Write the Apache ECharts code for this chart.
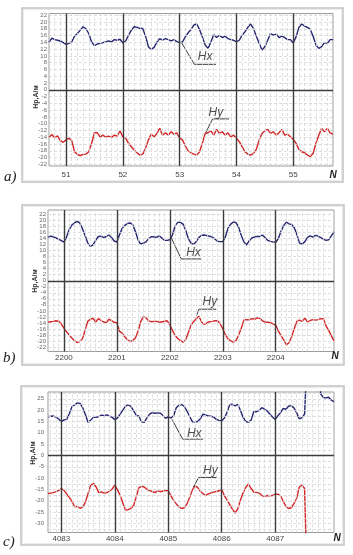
<!DOCTYPE html>
<html><head><meta charset="utf-8">
<script src="https://cdn.jsdelivr.net/npm/echarts@6/dist/echarts.min.js"></script>
<style>html,body{margin:0;padding:0;background:#fff}#c{width:353px;height:555px}</style>
</head><body><div id="c"></div>
<script>
// ---------- Panel a) ----------
const xTicksA = [51, 52, 53, 54, 55];
const yTicksA = [22, 20, 18, 16, 14, 12, 10, 8, 6, 4, 2, 0, -2, -4, -6, -8, -10, -12, -14, -16, -18, -20, -22];
const hxA = [[50.70,14.1],[50.75,15.2],[50.80,14.8],[50.85,14.6],[50.90,14.4],[50.95,13.9],[51.00,13.4],
[51.05,13.7],[51.10,14.1],[51.15,15.8],[51.20,16.6],[51.25,17.6],[51.30,18.6],[51.35,18.0],[51.40,16.6],[51.45,14.1],[51.50,13.0],
[51.55,13.5],[51.60,13.7],[51.65,13.9],[51.70,14.1],[51.75,14.4],[51.80,14.1],[51.85,14.8],[51.90,14.6],[51.95,14.9],[52.00,13.8],
[52.05,14.4],[52.10,16.1],[52.15,17.6],[52.20,18.6],[52.25,18.4],[52.30,18.1],[52.35,18.1],[52.40,15.8],[52.45,12.7],[52.50,11.9],
[52.55,12.5],[52.60,14.1],[52.65,15.1],[52.70,14.6],[52.75,15.1],[52.80,14.8],[52.85,14.4],[52.90,14.8],[52.95,14.2],[53.00,13.9],
[53.05,14.1],[53.10,15.6],[53.15,16.8],[53.20,17.8],[53.25,19.1],[53.30,19.4],[53.35,17.8],[53.40,15.6],[53.45,13.2],[53.50,12.2],
[53.55,14.1],[53.60,16.3],[53.65,15.4],[53.70,16.1],[53.75,15.4],[53.80,15.8],[53.85,15.1],[53.90,14.8],[53.95,14.6],[54.00,14.1],
[54.05,14.6],[54.10,16.1],[54.15,17.1],[54.20,18.4],[54.25,19.4],[54.30,18.1],[54.35,15.8],[54.40,13.7],[54.45,11.7],[54.50,12.7],
[54.55,14.6],[54.60,16.6],[54.65,16.1],[54.70,16.4],[54.75,15.4],[54.80,15.8],[54.85,15.4],[54.90,14.8],[54.95,14.8],[55.00,13.8],
[55.05,15.6],[55.10,18.4],[55.15,19.4],[55.20,18.8],[55.25,18.4],[55.30,17.8],[55.35,15.8],[55.40,13.2],[55.45,12.2],[55.50,12.7],
[55.55,13.9],[55.60,13.7],[55.65,14.8],[55.70,14.8]];
const hyA = [[50.70,-14.0],[50.75,-13.2],[50.80,-14.2],[50.85,-13.6],[50.90,-15.0],[50.95,-15.5],[51.00,-14.8],
[51.05,-14.3],[51.10,-15.0],[51.15,-18.3],[51.20,-19.1],[51.25,-19.4],[51.30,-19.1],[51.35,-19.0],[51.40,-18.3],[51.45,-15.8],[51.50,-12.7],
[51.55,-12.7],[51.60,-13.9],[51.65,-13.4],[51.70,-14.0],[51.75,-13.7],[51.80,-14.1],[51.85,-13.4],[51.90,-13.7],[51.95,-12.1],[52.00,-13.9],
[52.05,-14.3],[52.10,-15.8],[52.15,-16.8],[52.20,-17.8],[52.25,-18.6],[52.30,-19.3],[52.35,-19.0],[52.40,-17.3],[52.45,-14.8],[52.50,-13.1],
[52.55,-13.9],[52.60,-12.9],[52.65,-11.4],[52.70,-13.4],[52.75,-12.7],[52.80,-13.4],[52.85,-12.4],[52.90,-13.1],[52.95,-12.7],[53.00,-14.3],
[53.05,-14.8],[53.10,-16.6],[53.15,-18.0],[53.20,-18.6],[53.25,-19.0],[53.30,-19.3],[53.35,-18.3],[53.40,-15.8],[53.45,-12.9],[53.50,-12.7],
[53.55,-12.1],[53.60,-13.4],[53.65,-11.7],[53.70,-12.9],[53.75,-12.4],[53.80,-13.4],[53.85,-12.7],[53.90,-13.9],[53.95,-13.4],[54.00,-14.3],
[54.05,-15.3],[54.10,-16.8],[54.15,-18.3],[54.20,-19.0],[54.25,-19.3],[54.30,-18.8],[54.35,-17.6],[54.40,-14.8],[54.45,-12.9],[54.50,-12.1],
[54.55,-11.7],[54.60,-12.9],[54.65,-12.4],[54.70,-13.4],[54.75,-12.7],[54.80,-11.7],[54.85,-13.4],[54.90,-13.1],[54.95,-13.9],[55.00,-14.6],
[55.05,-15.8],[55.10,-17.6],[55.15,-18.3],[55.20,-18.6],[55.25,-19.3],[55.30,-19.7],[55.35,-18.8],[55.40,-15.8],[55.45,-13.4],[55.50,-11.4],
[55.55,-12.4],[55.60,-11.4],[55.65,-12.7],[55.70,-13.1]];
const leadHxA = [[53.035,13.85],[53.26,7.5],[53.64,7.5]];
const leadHyA = [[53.46,-12.7],[53.58,-8.6],[53.87,-8.6]];
const textHxA = [53.31, 9.7];
const textHyA = [53.50, -6.9];

// ---------- Panel b) ----------
const xTicksB = [2200, 2201, 2202, 2203, 2204];
const yTicksB = [22, 20, 18, 16, 14, 12, 10, 8, 6, 4, 2, 0, -2, -4, -6, -8, -10, -12, -14, -16, -18, -20, -22];
const hxB = [[2199.70,14.5],[2199.75,14.8],[2199.80,14.6],[2199.85,14.2],[2199.90,13.8],[2199.95,13.3],[2200.00,12.8],
[2200.05,14.5],[2200.10,17.0],[2200.15,18.5],[2200.20,19.2],[2200.25,19.7],[2200.30,19.2],[2200.35,17.3],[2200.40,15.0],[2200.45,12.6],[2200.50,11.4],
[2200.55,11.9],[2200.60,13.4],[2200.65,14.7],[2200.70,14.8],[2200.75,14.3],[2200.80,14.7],[2200.85,15.2],[2200.90,14.4],[2200.95,13.2],[2201.00,12.8],
[2201.05,15.3],[2201.10,17.4],[2201.15,18.4],[2201.20,19.0],[2201.25,19.2],[2201.30,18.6],[2201.35,16.4],[2201.40,13.6],[2201.45,12.2],[2201.50,12.5],
[2201.55,12.9],[2201.60,14.0],[2201.65,14.6],[2201.70,14.6],[2201.75,14.4],[2201.80,14.9],[2201.85,14.2],[2201.90,13.4],[2201.95,13.4],[2202.00,13.6],
[2202.05,15.2],[2202.10,18.2],[2202.15,19.4],[2202.20,19.4],[2202.25,18.8],[2202.30,16.8],[2202.35,14.0],[2202.40,12.5],[2202.45,12.1],[2202.50,13.0],
[2202.55,14.4],[2202.60,15.1],[2202.65,15.2],[2202.70,15.0],[2202.75,14.8],[2202.80,14.5],[2202.85,13.9],[2202.90,13.1],[2202.95,13.0],[2203.00,13.0],
[2203.05,14.6],[2203.10,17.5],[2203.15,18.8],[2203.20,19.5],[2203.25,19.3],[2203.30,17.7],[2203.35,15.0],[2203.40,12.9],[2203.45,11.9],[2203.50,13.3],
[2203.55,14.2],[2203.60,14.6],[2203.65,14.7],[2203.70,14.7],[2203.75,15.2],[2203.80,14.3],[2203.85,13.4],[2203.90,13.1],[2203.95,12.9],[2204.00,12.8],
[2204.05,14.0],[2204.10,16.5],[2204.15,18.3],[2204.20,19.5],[2204.25,18.9],[2204.30,18.7],[2204.35,17.6],[2204.40,15.3],[2204.45,12.5],[2204.50,12.2],
[2204.55,13.0],[2204.60,14.4],[2204.65,14.9],[2204.70,14.5],[2204.75,15.1],[2204.80,14.8],[2204.85,14.3],[2204.90,13.8],[2204.95,13.4],[2205.00,13.6],
[2205.05,14.9],[2205.10,16.2]];
const hyB = [[2199.70,-13.7],[2199.75,-13.6],[2199.80,-13.5],[2199.85,-13.3],[2199.90,-13.4],[2199.95,-14.3],[2200.00,-15.7],
[2200.05,-16.9],[2200.10,-18.0],[2200.15,-19.0],[2200.20,-19.9],[2200.25,-20.5],[2200.30,-20.2],[2200.35,-19.3],[2200.40,-16.5],[2200.45,-13.5],[2200.50,-12.8],
[2200.55,-12.4],[2200.60,-13.7],[2200.65,-12.6],[2200.70,-13.2],[2200.75,-13.7],[2200.80,-13.9],[2200.85,-12.8],[2200.90,-13.2],[2200.95,-13.8],[2201.00,-14.0],
[2201.05,-16.8],[2201.10,-17.4],[2201.15,-18.6],[2201.20,-19.6],[2201.25,-20.2],[2201.30,-19.8],[2201.35,-19.0],[2201.40,-16.8],[2201.45,-13.6],[2201.50,-12.0],
[2201.55,-12.3],[2201.60,-13.3],[2201.65,-13.6],[2201.70,-13.5],[2201.75,-13.5],[2201.80,-13.7],[2201.85,-13.7],[2201.90,-13.4],[2201.95,-13.3],[2202.00,-14.6],
[2202.05,-16.5],[2202.10,-18.2],[2202.15,-19.2],[2202.20,-19.9],[2202.25,-20.4],[2202.30,-19.6],[2202.35,-17.2],[2202.40,-14.8],[2202.45,-13.5],[2202.50,-12.6],
[2202.55,-11.8],[2202.60,-13.7],[2202.65,-14.5],[2202.70,-14.0],[2202.75,-13.6],[2202.80,-13.5],[2202.85,-13.3],[2202.90,-13.3],[2202.95,-14.2],[2203.00,-16.0],
[2203.05,-18.0],[2203.10,-19.3],[2203.15,-20.0],[2203.20,-20.4],[2203.25,-19.9],[2203.30,-18.0],[2203.35,-15.7],[2203.40,-13.0],[2203.45,-12.9],[2203.50,-13.0],
[2203.55,-12.6],[2203.60,-12.8],[2203.65,-12.3],[2203.70,-12.5],[2203.75,-13.3],[2203.80,-13.7],[2203.85,-13.8],[2203.90,-13.9],[2203.95,-14.3],[2204.00,-14.8],
[2204.05,-16.7],[2204.10,-18.2],[2204.15,-19.6],[2204.20,-21.3],[2204.25,-20.6],[2204.30,-18.6],[2204.35,-15.9],[2204.40,-13.4],[2204.45,-13.1],[2204.50,-13.5],
[2204.55,-12.4],[2204.60,-13.7],[2204.65,-13.2],[2204.70,-12.9],[2204.75,-13.1],[2204.80,-12.9],[2204.85,-12.6],[2204.90,-12.6],[2204.95,-15.0],[2205.00,-16.5],
[2205.05,-18.3],[2205.10,-20.0]];
const leadHxB = [[2202.03,14.2],[2202.215,7.25],[2202.59,7.25]];
const leadHyB = [[2202.50,-11.8],[2202.55,-9.45],[2202.875,-9.45]];
const textHxB = [2202.30, 9.2];
const textHyB = [2202.61, -7.0];

// ---------- Panel c) ----------
const xTicksC = [4083, 4084, 4085, 4086, 4087];
const yTicksC = [25, 20, 15, 10, 5, 0, -5, -10, -15, -20, -25, -30];
const hxC = [[4082.75,17.1],[4082.80,17.3],[4082.85,17.4],[4082.90,16.9],[4082.95,16.1],[4083.00,14.9],
[4083.05,15.7],[4083.10,15.9],[4083.15,18.5],[4083.20,21.6],[4083.25,22.3],[4083.30,23.2],[4083.35,23.0],[4083.40,21.0],[4083.45,18.0],[4083.50,14.5],
[4083.55,15.6],[4083.60,16.9],[4083.65,16.8],[4083.70,17.2],[4083.75,17.8],[4083.80,17.6],[4083.85,17.9],[4083.90,17.3],[4083.95,16.8],[4084.00,15.8],
[4084.05,16.6],[4084.10,18.2],[4084.15,20.0],[4084.20,21.8],[4084.25,22.3],[4084.30,21.7],[4084.35,19.8],[4084.40,17.8],[4084.45,17.3],[4084.50,14.8],
[4084.55,14.6],[4084.60,16.6],[4084.65,18.2],[4084.70,18.9],[4084.75,18.6],[4084.80,18.8],[4084.85,18.7],[4084.90,17.6],[4084.95,16.4],[4085.00,17.1],
[4085.05,16.5],[4085.10,17.5],[4085.15,21.1],[4085.20,22.3],[4085.25,22.5],[4085.30,21.6],[4085.35,19.6],[4085.40,17.2],[4085.45,14.9],[4085.50,14.8],
[4085.55,15.0],[4085.60,16.2],[4085.65,18.2],[4085.70,17.9],[4085.75,17.4],[4085.80,17.3],[4085.85,16.9],[4085.90,15.9],[4085.95,15.5],[4086.00,15.3],
[4086.05,16.5],[4086.10,19.0],[4086.15,22.5],[4086.20,22.6],[4086.25,21.9],[4086.30,22.6],[4086.35,19.8],[4086.40,16.8],[4086.45,15.0],[4086.50,14.6],
[4086.55,15.6],[4086.60,19.4],[4086.65,19.3],[4086.70,19.9],[4086.75,21.1],[4086.80,20.4],[4086.85,19.6],[4086.90,18.3],[4086.95,17.0],[4087.00,15.9],
[4087.05,17.5],[4087.10,18.9],[4087.15,20.8],[4087.20,20.4],[4087.25,21.7],[4087.30,22.0],[4087.35,21.0],[4087.40,18.9],[4087.45,16.2],[4087.50,16.6],
[4087.55,18.3],[4087.57,19.0],[4087.59,40],[4087.82,40],[4087.85,27.2],[4087.90,25.6],[4087.95,25.4],[4088.00,25.7],[4088.05,24.4],[4088.10,23.8]];
const hyC = [[4082.75,-16.8],[4082.80,-16.6],[4082.85,-16.4],[4082.90,-16.0],[4082.95,-15.4],[4083.00,-14.6],
[4083.05,-15.4],[4083.10,-17.0],[4083.15,-18.6],[4083.20,-20.3],[4083.25,-22.7],[4083.30,-22.4],[4083.35,-23.3],[4083.40,-22.8],[4083.45,-20.6],[4083.50,-16.8],
[4083.55,-13.0],[4083.60,-12.4],[4083.65,-13.9],[4083.70,-16.4],[4083.75,-16.1],[4083.80,-16.6],[4083.85,-16.4],[4083.90,-15.8],[4083.95,-14.8],[4084.00,-13.1],
[4084.05,-15.2],[4084.10,-17.6],[4084.15,-21.0],[4084.20,-24.2],[4084.25,-23.9],[4084.30,-23.3],[4084.35,-22.2],[4084.40,-18.3],[4084.45,-14.2],[4084.50,-13.6],
[4084.55,-13.9],[4084.60,-14.9],[4084.65,-15.5],[4084.70,-15.9],[4084.75,-16.4],[4084.80,-15.6],[4084.85,-16.0],[4084.90,-15.7],[4084.95,-15.4],[4085.00,-15.6],
[4085.05,-17.8],[4085.10,-19.8],[4085.15,-21.4],[4085.20,-22.7],[4085.25,-23.4],[4085.30,-23.1],[4085.35,-21.4],[4085.40,-18.5],[4085.45,-15.3],[4085.50,-13.3],
[4085.55,-14.2],[4085.60,-15.8],[4085.65,-16.9],[4085.70,-17.6],[4085.75,-17.0],[4085.80,-16.5],[4085.85,-16.2],[4085.90,-15.9],[4085.95,-15.6],[4086.00,-15.0],
[4086.05,-17.8],[4086.10,-19.6],[4086.15,-21.8],[4086.20,-23.7],[4086.25,-25.4],[4086.30,-23.5],[4086.35,-19.7],[4086.40,-16.5],[4086.45,-14.0],[4086.50,-12.6],
[4086.55,-14.6],[4086.60,-16.2],[4086.65,-16.3],[4086.70,-16.6],[4086.75,-17.7],[4086.80,-18.0],[4086.85,-17.7],[4086.90,-17.8],[4086.95,-17.7],[4087.00,-17.1],
[4087.05,-17.1],[4087.10,-17.8],[4087.15,-20.2],[4087.20,-22.5],[4087.25,-23.4],[4087.30,-23.1],[4087.35,-21.3],[4087.40,-19.0],[4087.45,-14.0],[4087.50,-13.0],
[4087.55,-14.6],[4087.58,-15.3],[4087.59,-50]];
const leadHxC = [[4085.07,15.9],[4085.27,7.2],[4085.65,7.2]];
const leadHyC = [[4085.47,-13.9],[4085.57,-9.7],[4085.91,-9.7]];
const textHxC = [4085.34, 9.7];
const textHyC = [4085.64, -6.5];

// ---------- layout / style ----------
const FONT = 'Liberation Sans';
const HX_COLOR = '#262672';
const HY_COLOR = '#d42626';
const panels = [
  {grid:{left:49, top:13.5, width:284, height:152.5}, xMin:50.7, xMax:55.7, xInt:0.1, yMin:-22.5, yMax:22.5, yInt:0.5,
   xTicks:xTicksA, yTicks:yTicksA, yMinorStep:2, xLabelMargin:5, yLabelMargin:2,
   hx:hxA, hy:hyA, lx:leadHxA, ly:leadHyA, tx:textHxA, ty:textHyA},
  {grid:{left:48, top:210, width:286, height:141.5}, xMin:2199.7, xMax:2205.1, xInt:0.1, yMin:-23.5, yMax:23.5, yInt:0.5,
   xTicks:xTicksB, yTicks:yTicksB, yMinorStep:2, xLabelMargin:2, yLabelMargin:2,
   hx:hxB, hy:hyB, lx:leadHxB, ly:leadHyB, tx:textHxB, ty:textHyB},
  {grid:{left:48, top:392, width:286, height:140.5}, xMin:4082.75, xMax:4088.1, xInt:0.05, yMin:-34, yMax:28, yInt:1,
   xTicks:xTicksC, yTicks:yTicksC, yMinorStep:2.5, xLabelMargin:2, yLabelMargin:4,
   hx:hxC, hy:hyC, lx:leadHxC, ly:leadHyC, tx:textHxC, ty:textHyC}
];

function near(list, v) { return list.some(t => Math.abs(t - v) < 1e-6); }

const grids = [], xAxes = [], yAxes = [], series = [];
panels.forEach((p, i) => {
  grids.push(Object.assign({show:true, borderColor:'#9a9a9a', borderWidth:1, backgroundColor:'transparent'}, p.grid));
  xAxes.push({type:'value', gridIndex:i, min:p.xMin, max:p.xMax, interval:p.xInt,
    axisLine:{show:false}, axisTick:{show:false}, splitLine:{show:false},
    axisLabel:{show:true, margin:p.xLabelMargin, fontSize:8, color:'#444', fontFamily:FONT,
      formatter: v => near(p.xTicks, v) ? String(Math.round(v)) : ''}});
  yAxes.push({type:'value', gridIndex:i, min:p.yMin, max:p.yMax, interval:p.yInt,
    axisLine:{show:false}, axisTick:{show:false}, splitLine:{show:false},
    axisLabel:{show:true, margin:p.yLabelMargin, fontSize:6, color:'#666', fontFamily:FONT,
      formatter: v => near(p.yTicks, v) ? String(Math.round(v)) : ''}});

  // grid lines (minor dashed + major solid) via markLine
  const ml = [];
  const minorStyle = {color:'#d6d6d6', width:0.8, type:[3,2]};
  const majorStyle = {color:'#3c3c3c', width:1.4, type:'solid'};
  const k0 = Math.ceil(p.xMin * 10 - 1e-9), k1 = Math.floor(p.xMax * 10 + 1e-9);
  for (let k = k0; k <= k1; k++) {
    if (k % 10 !== 0) ml.push({xAxis: k / 10, lineStyle: minorStyle});
  }
  const j0 = Math.ceil(p.yMin / p.yMinorStep - 1e-9), j1 = Math.floor(p.yMax / p.yMinorStep + 1e-9);
  for (let j = j0; j <= j1; j++) {
    if (j !== 0) ml.push({yAxis: j * p.yMinorStep, lineStyle: minorStyle});
  }
  p.xTicks.forEach(t => ml.push({xAxis: t, lineStyle: majorStyle}));
  ml.push({yAxis: 0, lineStyle: majorStyle});

  series.push({type:'line', xAxisIndex:i, yAxisIndex:i, data:[], z:1, silent:true,
    markLine:{silent:true, symbol:['none','none'], label:{show:false}, animation:false, data: ml}});

  series.push({name:'Hx', type:'line', xAxisIndex:i, yAxisIndex:i, data:p.hx, showSymbol:false, z:3,
    lineStyle:{color:HX_COLOR, width:1.4}, itemStyle:{color:HX_COLOR}});
  series.push({name:'Hy', type:'line', xAxisIndex:i, yAxisIndex:i, data:p.hy, showSymbol:false, z:3,
    lineStyle:{color:HY_COLOR, width:1.4}, itemStyle:{color:HY_COLOR}});
  [p.lx, p.ly].forEach(d => series.push({type:'line', xAxisIndex:i, yAxisIndex:i, data:d, showSymbol:false, z:4,
    silent:true, lineStyle:{color:'#3a3a3a', width:1}}));
  [[p.tx,'Hx'],[p.ty,'Hy']].forEach(([pt, name]) => series.push({type:'scatter', xAxisIndex:i, yAxisIndex:i,
    data:[pt], symbolSize:1, itemStyle:{color:'rgba(0,0,0,0)'}, z:5, silent:true,
    label:{show:true, formatter:name, position:'right', distance:0, fontSize:12, fontStyle:'italic',
      fontFamily:FONT, color:'#222'}}));
});

const frames = [[22, 8, 321, 174], [22, 205, 322, 160], [21, 386, 323, 159]];
const graphic = [];
frames.forEach(f => {
  graphic.push({type:'rect', shape:{x:f[0], y:f[1], width:f[2], height:f[3]},
    style:{fill:'transparent', stroke:'#c2c2c2', lineWidth:1.5}, z:-1, silent:true});
  graphic.push({type:'rect', shape:{x:f[0]+1.5, y:f[1]+1.5, width:f[2]-3, height:f[3]-3},
    style:{fill:'transparent', stroke:'#ececec', lineWidth:1}, z:-1, silent:true});
});
const titles = [[36.5, 97], [35, 281], [33.5, 453]];
titles.forEach(t => graphic.push({type:'text', x:t[0], y:t[1], rotation:Math.PI/2, silent:true,
  style:{text:'Hp,A/м', font:'bold 7px ' + FONT, fill:'#333', align:'center', verticalAlign:'middle'}}));
const letters = [['a)', 4, 177], ['b)', 3, 358], ['c)', 3, 542]];
letters.forEach(l => graphic.push({type:'text', x:l[1], y:l[2], silent:true,
  style:{text:l[0], font:'italic 15px "Liberation Serif"', fill:'#222', align:'left', verticalAlign:'middle'}}));
const ns = [[333, 175], [335, 356.5], [337, 538]];
ns.forEach(n => graphic.push({type:'text', x:n[0], y:n[1], silent:true,
  style:{text:'N', font:'bold italic 10px ' + FONT, fill:'#222', align:'center', verticalAlign:'middle'}}));

const chart = echarts.init(document.getElementById('c'), null, {renderer:'canvas'});
chart.setOption({animation:false, backgroundColor:'#fff', grid:grids, xAxis:xAxes, yAxis:yAxes, series:series, graphic:graphic});
</script></body></html>
